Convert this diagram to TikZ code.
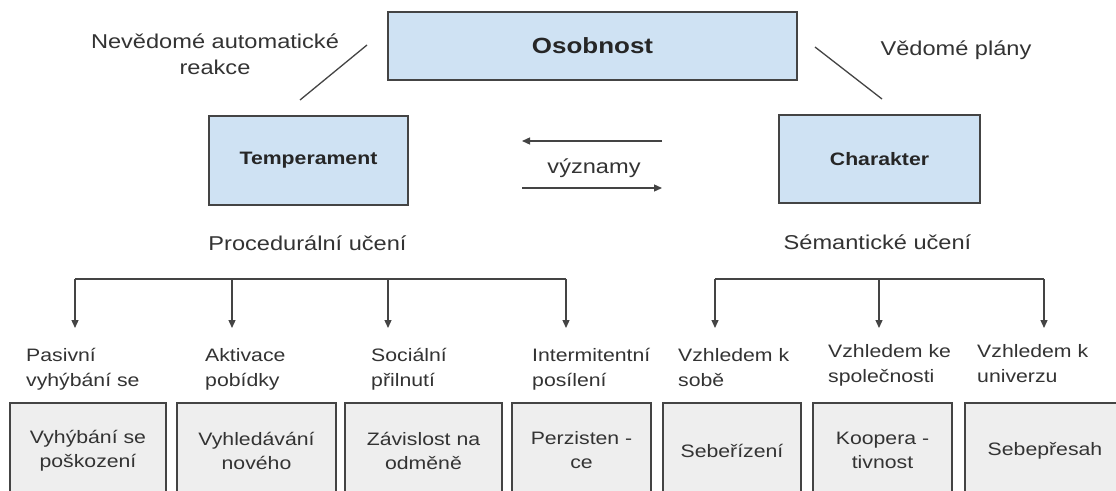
\documentclass[tikz,border=0pt]{standalone}
\usepackage{fontspec}
\setmainfont{Liberation Sans}[FakeStretch=1.18]
\usetikzlibrary{arrows.meta}
\definecolor{boxblue}{HTML}{CFE2F3}
\definecolor{boxgray}{HTML}{EEEEEE}
\definecolor{linec}{HTML}{444444}
\definecolor{txt}{HTML}{333333}
\begin{document}
\begin{tikzpicture}[x=1pt,y=-1pt,
  topbox/.style={draw=linec, line width=1.5pt, fill=boxblue, inner sep=0pt, text=black!85,
    font=\fontsize{18}{22}\selectfont\bfseries},
  botbox/.style={draw=linec, line width=1.5pt, fill=boxgray, inner sep=0pt, text=txt, align=center,
    font=\fontsize{18}{24}\selectfont},
  lab/.style={inner sep=0pt, text=txt, font=\fontsize{20}{26}\selectfont},
  smalllab/.style={inner sep=0pt, text=txt, align=left, anchor=base west, font=\fontsize{18}{25}\selectfont},
  conn/.style={draw=linec, line width=1.3pt},
  arr/.style={conn, -{Triangle[length=8pt,width=7pt]}}
]
\useasboundingbox (0,0) rectangle (1116,490);
\clip (0,0) rectangle (1116,490);
\fill[white] (0,0) rectangle (1116,490);

% top boxes
\node[topbox, minimum width=409pt, minimum height=68pt, font=\fontsize{22}{26}\selectfont\bfseries] (os) at (592.5,46) {Osobnost};
\node[topbox, minimum width=199pt, minimum height=89pt] (temp) at (308.5,160.5) {Temperament};
\node[topbox, minimum width=201pt, minimum height=88pt] (char) at (879.5,159) {Charakter};

% top labels
\node[lab, align=center, anchor=base] (nev) at (215,74) {Nevědomé automatické\\reakce};
\node[lab, anchor=base] (ved) at (956,55) {Vědomé plány};
\node[lab, anchor=base] (proc) at (307.5,250) {Procedurální učení};
\node[lab, anchor=base] (sem) at (877.5,249) {Sémantické učení};
\node[lab, anchor=base] (vyz) at (594,173) {významy};

% diagonal lines
\coordinate (dl1) at (367,45); \coordinate (dl2) at (300,100);
\coordinate (dr1) at (815,47); \coordinate (dr2) at (882,99);
\draw[conn] (dl1) -- (dl2);
\draw[conn] (dr1) -- (dr2);

% meaning arrows
\coordinate (a1s) at (662,141); \coordinate (a1e) at (522,141);
\coordinate (a2s) at (522,188); \coordinate (a2e) at (662,188);
\draw[arr] (a1s) -- (a1e);
\draw[arr] (a2s) -- (a2e);

% brackets
\foreach \i/\x in {1/75,2/232,3/388,4/566,5/715,6/879,7/1044}{
  \coordinate (b\i) at (\x,279);
  \coordinate (t\i) at (\x,328);
}
\draw[conn] (b1) -- (b4);
\draw[conn] (b5) -- (b7);
\foreach \i in {1,...,7}{ \draw[arr] (b\i) -- (t\i); }

% labels above bottom boxes
\node[smalllab] (l1) at (26,386) {Pasivní\\vyhýbání se};
\node[smalllab] (l2) at (205,386) {Aktivace\\pobídky};
\node[smalllab] (l3) at (371,386) {Sociální\\přilnutí};
\node[smalllab] (l4) at (532,386) {Intermitentní\\posílení};
\node[smalllab] (l5) at (678,386) {Vzhledem k\\sobě};
\node[smalllab] (l6) at (828,382) {Vzhledem ke\\společnosti};
\node[smalllab] (l7) at (977,382) {Vzhledem k\\univerzu};

% bottom boxes
\node[botbox, minimum width=156pt, minimum height=95pt] (k1) at (88,450.5) {Vyhýbání se\\poškození};
\node[botbox, minimum width=159pt, minimum height=95pt] (k2) at (256.5,450.5) {Vyhledávání\\nového};
\node[botbox, minimum width=157pt, minimum height=95pt] (k3) at (423.5,450.5) {Závislost na\\odměně};
\node[botbox, minimum width=139pt, minimum height=95pt] (k4) at (581.5,450.5) {Perzisten -\\ce};
\node[botbox, minimum width=138pt, minimum height=95pt] (k5) at (732,450.5) {Sebeřízení};
\node[botbox, minimum width=139pt, minimum height=95pt] (k6) at (882.5,450.5) {Koopera -\\tivnost};
\node[botbox, minimum width=160pt, minimum height=95pt] (k7) at (1045,450.5) {Sebepřesah};
\end{tikzpicture}
\end{document}
